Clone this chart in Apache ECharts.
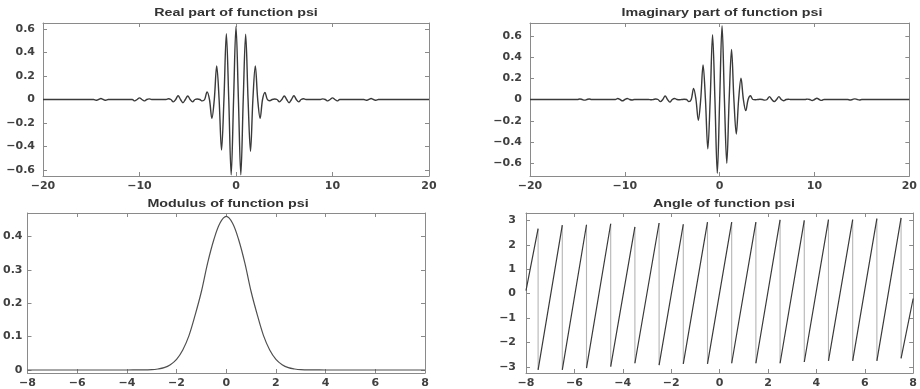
<!DOCTYPE html>
<html>
<head>
<meta charset="utf-8">
<script src="https://cdn.jsdelivr.net/npm/echarts@6/dist/echarts.min.js"></script>
<style>html,body{margin:0;padding:0;background:#fff;}#c{width:920px;height:389px;}</style>
</head>
<body>
<div id="c"></div>
<script>
// ---- data ----
const titles = ['Real part of function psi', 'Imaginary part of function psi', 'Modulus of function psi', 'Angle of function psi'];

const realPart = [[-20,0],[-15,0],[-14.75,0],[-14.5,-0.007],[-14.25,0],[-14,0.008],[-13.75,0],[-13.5,-0.007],[-13.25,0],[-11,0],[-10.75,0],[-10.5,-0.012],[-10.25,0],[-10,0.014],[-9.75,0],[-9.5,-0.012],[-9.25,0],[-9,0.005],[-8.75,0],[-7.5,0],[-7.25,0],[-7,0.006],[-6.75,0],[-6.5,-0.02],[-6.25,0],[-6,0.032],[-5.75,0],[-5.5,-0.027],[-5.25,0],[-5,0.03],[-4.75,0],[-4.5,-0.02],[-4.25,0],[-4,0.004],[-3.75,0],[-3.5,-0.012],[-3.25,0],[-3,0.065],[-2.75,0],[-2.5,-0.16],[-2.25,0],[-2,0.285],[-1.75,0],[-1.5,-0.43],[-1.25,0],[-1,0.56],[-0.75,0],[-0.5,-0.64],[-0.25,0],[0,0.62],[0.25,0],[0.5,-0.64],[0.75,0],[1,0.555],[1.25,0],[1.5,-0.44],[1.75,0],[2,0.285],[2.25,0],[2.5,-0.16],[2.75,0],[3,0.06],[3.25,0],[3.5,-0.01],[3.75,0],[4,0.004],[4.25,0],[4.5,-0.02],[4.75,0],[5,0.03],[5.25,0],[5.5,-0.027],[5.75,0],[6,0.032],[6.25,0],[6.5,-0.02],[6.75,0],[7,0.006],[7.25,0],[8.75,0],[9,0.005],[9.25,0],[9.5,-0.012],[9.75,0],[10,0.014],[10.25,0],[10.5,-0.012],[10.75,0],[11,0],[13.25,0],[13.5,-0.007],[13.75,0],[14,0.008],[14.25,0],[14.5,-0.007],[14.75,0],[15,0],[20,0]];

const imagPart = [[-20,0],[-15,0],[-14.75,0.005],[-14.5,0],[-14.25,-0.006],[-14,0],[-13.75,0.005],[-13.5,0],[-11,0],[-10.75,0.01],[-10.5,0],[-10.25,-0.012],[-10,0],[-9.75,0.01],[-9.5,0],[-9.25,-0.005],[-9,0],[-7.5,0],[-7.25,-0.003],[-7,0],[-6.75,0.005],[-6.5,0],[-6.25,-0.02],[-6,0],[-5.75,0.033],[-5.5,0],[-5.25,-0.025],[-5,0],[-4.75,0.01],[-4.5,0],[-4.25,-0.003],[-4,0],[-3.75,0.002],[-3.5,0],[-3.25,-0.02],[-3,0],[-2.75,0.105],[-2.5,0],[-2.25,-0.195],[-2,0],[-1.75,0.325],[-1.5,0],[-1.25,-0.465],[-1,0],[-0.75,0.61],[-0.5,0],[-0.25,-0.695],[0,0],[0.25,0.695],[0.5,0],[0.75,-0.6],[1,0],[1.25,0.47],[1.5,0],[1.75,-0.325],[2,0],[2.25,0.2],[2.5,0],[2.75,-0.105],[3,0],[3.25,0.035],[3.5,0],[3.75,-0.003],[4,0],[4.25,0.002],[4.5,0],[4.75,-0.006],[5,0],[5.25,0.027],[5.5,0],[5.75,-0.02],[6,0],[6.25,0.027],[6.5,0],[6.75,-0.012],[7,0],[7.25,0.003],[7.5,0],[9,0],[9.25,0.004],[9.5,0],[9.75,-0.01],[10,0],[10.25,0.012],[10.5,0],[10.75,-0.008],[11,0],[13.5,0],[13.75,-0.005],[14,0],[14.25,0.006],[14.5,0],[14.75,-0.004],[15,0],[20,0]];

const modulus = [[-8,0],[-4,0],[-3.5,0.0003],[-3,0.001],[-2.75,0.003],[-2.5,0.007],[-2.25,0.016],[-2,0.032],[-1.75,0.06],[-1.5,0.103],[-1.25,0.165],[-1,0.235],[-0.75,0.32],[-0.5,0.39],[-0.25,0.44],[0,0.46],[0.25,0.44],[0.5,0.39],[0.75,0.32],[1,0.235],[1.25,0.165],[1.5,0.103],[1.75,0.06],[2,0.032],[2.25,0.016],[2.5,0.007],[2.75,0.003],[3,0.001],[3.5,0.0003],[4,0],[8,0]];

const angleWrapX = [-7.5,-6.5,-5.5,-4.5,-3.5,-2.5,-1.5,-0.5,0.5,1.5,2.5,3.5,4.5,5.5,6.5,7.5];
const angleTop = [2.66,2.8,2.82,2.86,2.73,2.89,2.84,2.93,2.93,2.93,3.02,3.0,3.03,3.03,3.07,3.1];
const angleBottom = [-3.12,-3.12,-3.05,-2.99,-2.85,-2.93,-2.88,-2.88,-2.85,-2.85,-2.85,-2.8,-2.75,-2.75,-2.75,-2.65];
const angleStart = [-8, 0.12];
const angleEnd = [8, -0.2];

const xTicksTop = [-20,-10,0,10,20];
const xTicksBottom = [-8,-6,-4,-2,0,2,4,6,8];
const yTicksReal = [-0.6,-0.4,-0.2,0,0.2,0.4,0.6];
const yTicksImag = [-0.6,-0.4,-0.2,0,0.2,0.4,0.6];
const yTicksMod = [0,0.1,0.2,0.3,0.4];
const yTicksAngle = [-3,-2,-1,0,1,2,3];

// ---- build ----
// rising ramps (dark) and wrap-around drops (light), separated by null breaks
const angleRamps = [angleStart];
angleWrapX.forEach((w, i) => {
  angleRamps.push([w, angleTop[i]]);
  angleRamps.push(null);
  angleRamps.push([w, angleBottom[i]]);
});
angleRamps.push(angleEnd);
const angleDrops = [];
angleWrapX.forEach((w, i) => {
  angleDrops.push([w, angleTop[i]]);
  angleDrops.push([w, angleBottom[i]]);
  angleDrops.push(null);
});

const grids = [
  {left: 43, right: 491, top: 23, height: 153},
  {left: 530, right: 3, top: 23, height: 153},
  {left: 25, right: 495, top: 213, height: 160},
  {left: 526, right: 2, top: 213, height: 160}
];
const xr = [[-20,20,xTicksTop],[-20,20,xTicksTop],[-8,8,xTicksBottom],[-8,8,xTicksBottom]];
const yr = [[-0.65,0.65,yTicksReal,8],[-0.72,0.72,yTicksImag,8],[-0.009,0.47,yTicksMod,5],[-3.25,3.3,yTicksAngle,10]];
const minus = v => String(v).replace('-', '\u2212');
const labelStyle = {color: '#404040', fontSize: 11, fontWeight: 'bold', fontFamily: '"DejaVu Sans", sans-serif'};
const lineCol = '#8a8a8a';

const xAxis = [], yAxis = [];
grids.forEach((g, i) => {
  const [x0, x1, xt] = xr[i];
  const [y0, y1, yt, ym] = yr[i];
  ['bottom', 'top'].forEach(pos => {
    xAxis.push({type: 'value', gridIndex: i, min: x0, max: x1, position: pos,
      axisLine: {show: true, onZero: false, lineStyle: {color: lineCol, width: 1}},
      axisTick: {show: true, inside: true, length: 4, customValues: xt, lineStyle: {color: lineCol}},
      axisLabel: {show: pos === 'bottom', customValues: xt, margin: 5, formatter: minus, ...labelStyle},
      splitLine: {show: false}});
  });
  ['left', 'right'].forEach(pos => {
    yAxis.push({type: 'value', gridIndex: i, min: y0, max: y1, position: pos,
      axisLine: {show: true, onZero: false, lineStyle: {color: lineCol, width: 1}},
      axisTick: {show: true, inside: true, length: 4, customValues: yt, lineStyle: {color: lineCol}},
      axisLabel: {show: pos === 'left', customValues: yt, margin: ym, formatter: minus, ...labelStyle},
      splitLine: {show: false}});
  });
});

const base = {type: 'line', showSymbol: false, symbol: 'none', silent: true, animation: false, connectNulls: false};
const series = [
  {...base, xAxisIndex: 0, yAxisIndex: 0, data: realPart, smooth: 0.35, lineStyle: {color: '#3a3a3a', width: 1.4}},
  {...base, xAxisIndex: 2, yAxisIndex: 2, data: imagPart, smooth: 0.35, lineStyle: {color: '#3a3a3a', width: 1.4}},
  {...base, xAxisIndex: 4, yAxisIndex: 4, data: modulus, smooth: 0.35, lineStyle: {color: '#505050', width: 1.2}},
  {...base, xAxisIndex: 6, yAxisIndex: 6, data: angleDrops, smooth: false, lineStyle: {color: '#b5b5b5', width: 1.1}},
  {...base, xAxisIndex: 6, yAxisIndex: 6, data: angleRamps, smooth: false, lineStyle: {color: '#3a3a3a', width: 1.2}}
];

const titlePos = [[236, 13], [722, 13], [228, 204], [724, 204]];
const graphic = titles.map((t, i) => ({
  type: 'text', x: titlePos[i][0], y: titlePos[i][1], scaleX: 1.3, silent: true,
  style: {text: t, textAlign: 'center', textVerticalAlign: 'middle', fill: '#333',
    font: 'bold 11px "Liberation Sans", Arial, sans-serif'}
}));

const chart = echarts.init(document.getElementById('c'), null, {renderer: 'canvas'});
chart.setOption({backgroundColor: '#fff', animation: false, grid: grids, xAxis, yAxis, series, graphic});
</script>
</body>
</html>
